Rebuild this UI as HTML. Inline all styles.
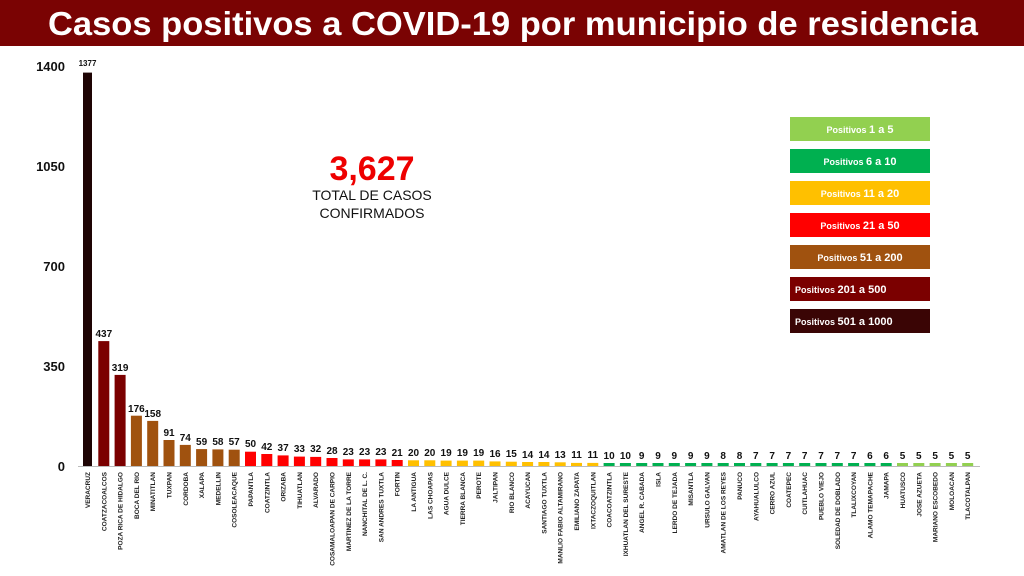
<!DOCTYPE html>
<html><head><meta charset="utf-8"><style>
body{margin:0;background:#fff;}
svg{display:block;font-family:"Liberation Sans",Arial,sans-serif;}
.v{font-size:10px;font-weight:bold;text-anchor:middle;fill:#111}
.l{font-size:6.5px;font-weight:bold;text-anchor:end;fill:#222}
.y{font-size:13px;font-weight:bold;text-anchor:end;fill:#111}
.lg{font-size:9px;font-weight:bold;fill:#fff;text-anchor:middle}
.lg tspan{font-size:11px}
</style></head><body>
<svg width="1024" height="576" viewBox="0 0 1024 576">
<rect x="0" y="0" width="1024" height="46" fill="#7a0303"/>
<text x="48" y="35" textLength="930" lengthAdjust="spacingAndGlyphs" font-size="33" font-weight="bold" fill="#fff">Casos positivos a COVID-19  por municipio de residencia</text>
<text class="y" x="65" y="71">1400</text>
<text class="y" x="65" y="171">1050</text>
<text class="y" x="65" y="271">700</text>
<text class="y" x="65" y="371">350</text>
<text class="y" x="65" y="471">0</text>
<line x1="78" y1="466.5" x2="980" y2="466.5" stroke="#bbb" stroke-width="1"/>
<text x="372" y="180" text-anchor="middle" font-size="34" font-weight="bold" fill="#ee0000">3,627</text>
<text x="372" y="200" text-anchor="middle" font-size="14" fill="#111">TOTAL DE CASOS</text>
<text x="372" y="218" text-anchor="middle" font-size="14" fill="#111">CONFIRMADOS</text>
<rect x="790" y="117" width="140" height="24" fill="#92d050"/><text class="lg" x="860" y="133">Positivos <tspan>1 a 5</tspan></text>
<rect x="790" y="149" width="140" height="24" fill="#00b050"/><text class="lg" x="860" y="165">Positivos <tspan>6 a 10</tspan></text>
<rect x="790" y="181" width="140" height="24" fill="#ffc000"/><text class="lg" x="860" y="197">Positivos <tspan>11 a 20</tspan></text>
<rect x="790" y="213" width="140" height="24" fill="#ff0000"/><text class="lg" x="860" y="229">Positivos <tspan>21 a 50</tspan></text>
<rect x="790" y="245" width="140" height="24" fill="#a0520f"/><text class="lg" x="860" y="261">Positivos <tspan>51 a 200</tspan></text>
<rect x="790" y="277" width="140" height="24" fill="#7b0000"/><text class="lg" x="795" y="293" style="text-anchor:start">Positivos <tspan>201 a 500</tspan></text>
<rect x="790" y="309" width="140" height="24" fill="#3a0505"/><text class="lg" x="795" y="325" style="text-anchor:start">Positivos <tspan>501 a 1000</tspan></text>

<rect x="83" y="72.6" width="9" height="393.4" fill="#1e0404"/><text class="v" x="87.5" y="66" style="font-size:8px">1377</text><text class="l" transform="translate(90,472) rotate(-90)">VERACRUZ</text>
<rect x="98.3" y="341.1" width="11" height="124.9" fill="#7b0000"/><text class="v" x="103.8" y="337">437</text><text class="l" transform="translate(106.3,472) rotate(-90)">COATZACOALCOS</text>
<rect x="114.6" y="374.9" width="11" height="91.1" fill="#7b0000"/><text class="v" x="120.1" y="371">319</text><text class="l" transform="translate(122.6,472) rotate(-90)">POZA RICA DE HIDALGO</text>
<rect x="130.9" y="415.7" width="11" height="50.3" fill="#a0520f"/><text class="v" x="136.4" y="412">176</text><text class="l" transform="translate(138.9,472) rotate(-90)">BOCA DEL RIO</text>
<rect x="147.2" y="420.9" width="11" height="45.1" fill="#a0520f"/><text class="v" x="152.7" y="417">158</text><text class="l" transform="translate(155.2,472) rotate(-90)">MINATITLAN</text>
<rect x="163.5" y="440" width="11" height="26" fill="#a0520f"/><text class="v" x="169" y="436">91</text><text class="l" transform="translate(171.5,472) rotate(-90)">TUXPAN</text>
<rect x="179.8" y="444.9" width="11" height="21.1" fill="#a0520f"/><text class="v" x="185.3" y="441">74</text><text class="l" transform="translate(187.8,472) rotate(-90)">CORDOBA</text>
<rect x="196.1" y="449.1" width="11" height="16.9" fill="#a0520f"/><text class="v" x="201.6" y="445">59</text><text class="l" transform="translate(204.1,472) rotate(-90)">XALAPA</text>
<rect x="212.4" y="449.4" width="11" height="16.6" fill="#a0520f"/><text class="v" x="217.9" y="445">58</text><text class="l" transform="translate(220.4,472) rotate(-90)">MEDELLIN</text>
<rect x="228.7" y="449.7" width="11" height="16.3" fill="#a0520f"/><text class="v" x="234.2" y="445">57</text><text class="l" transform="translate(236.7,472) rotate(-90)">COSOLEACAQUE</text>
<rect x="245" y="451.7" width="11" height="14.3" fill="#ff0000"/><text class="v" x="250.5" y="447">50</text><text class="l" transform="translate(253,472) rotate(-90)">PAPANTLA</text>
<rect x="261.3" y="454" width="11" height="12" fill="#ff0000"/><text class="v" x="266.8" y="450">42</text><text class="l" transform="translate(269.3,472) rotate(-90)">COATZINTLA</text>
<rect x="277.6" y="455.4" width="11" height="10.6" fill="#ff0000"/><text class="v" x="283.1" y="451">37</text><text class="l" transform="translate(285.6,472) rotate(-90)">ORIZABA</text>
<rect x="293.9" y="456.6" width="11" height="9.4" fill="#ff0000"/><text class="v" x="299.4" y="452">33</text><text class="l" transform="translate(301.9,472) rotate(-90)">TIHUATLAN</text>
<rect x="310.2" y="456.9" width="11" height="9.1" fill="#ff0000"/><text class="v" x="315.7" y="452">32</text><text class="l" transform="translate(318.2,472) rotate(-90)">ALVARADO</text>
<rect x="326.5" y="458" width="11" height="8" fill="#ff0000"/><text class="v" x="332" y="454">28</text><text class="l" transform="translate(334.5,472) rotate(-90)">COSAMALOAPAN DE CARPIO</text>
<rect x="342.8" y="459.4" width="11" height="6.6" fill="#ff0000"/><text class="v" x="348.3" y="455">23</text><text class="l" transform="translate(350.8,472) rotate(-90)">MARTINEZ DE LA TORRE</text>
<rect x="359.1" y="459.4" width="11" height="6.6" fill="#ff0000"/><text class="v" x="364.6" y="455">23</text><text class="l" transform="translate(367.1,472) rotate(-90)">NANCHITAL DE L. C.</text>
<rect x="375.4" y="459.4" width="11" height="6.6" fill="#ff0000"/><text class="v" x="380.9" y="455">23</text><text class="l" transform="translate(383.4,472) rotate(-90)">SAN ANDRES TUXTLA</text>
<rect x="391.7" y="460" width="11" height="6" fill="#ff0000"/><text class="v" x="397.2" y="456">21</text><text class="l" transform="translate(399.7,472) rotate(-90)">FORTIN</text>
<rect x="408" y="460.3" width="11" height="5.7" fill="#ffc000"/><text class="v" x="413.5" y="456">20</text><text class="l" transform="translate(416,472) rotate(-90)">LA ANTIGUA</text>
<rect x="424.3" y="460.3" width="11" height="5.7" fill="#ffc000"/><text class="v" x="429.8" y="456">20</text><text class="l" transform="translate(432.3,472) rotate(-90)">LAS CHOAPAS</text>
<rect x="440.6" y="460.6" width="11" height="5.4" fill="#ffc000"/><text class="v" x="446.1" y="456">19</text><text class="l" transform="translate(448.6,472) rotate(-90)">AGUA DULCE</text>
<rect x="456.9" y="460.6" width="11" height="5.4" fill="#ffc000"/><text class="v" x="462.4" y="456">19</text><text class="l" transform="translate(464.9,472) rotate(-90)">TIERRA BLANCA</text>
<rect x="473.2" y="460.6" width="11" height="5.4" fill="#ffc000"/><text class="v" x="478.7" y="456">19</text><text class="l" transform="translate(481.2,472) rotate(-90)">PEROTE</text>
<rect x="489.5" y="461.4" width="11" height="4.6" fill="#ffc000"/><text class="v" x="495" y="457">16</text><text class="l" transform="translate(497.5,472) rotate(-90)">JALTIPAN</text>
<rect x="505.8" y="461.7" width="11" height="4.3" fill="#ffc000"/><text class="v" x="511.3" y="457">15</text><text class="l" transform="translate(513.8,472) rotate(-90)">RIO BLANCO</text>
<rect x="522.1" y="462" width="11" height="4" fill="#ffc000"/><text class="v" x="527.6" y="458">14</text><text class="l" transform="translate(530.1,472) rotate(-90)">ACAYUCAN</text>
<rect x="538.4" y="462" width="11" height="4" fill="#ffc000"/><text class="v" x="543.9" y="458">14</text><text class="l" transform="translate(546.4,472) rotate(-90)">SANTIAGO TUXTLA</text>
<rect x="554.7" y="462.3" width="11" height="3.7" fill="#ffc000"/><text class="v" x="560.2" y="458">13</text><text class="l" transform="translate(562.7,472) rotate(-90)">MANLIO FABIO ALTAMIRANO</text>
<rect x="571" y="462.9" width="11" height="3.1" fill="#ffc000"/><text class="v" x="576.5" y="458">11</text><text class="l" transform="translate(579,472) rotate(-90)">EMILIANO ZAPATA</text>
<rect x="587.3" y="462.9" width="11" height="3.1" fill="#ffc000"/><text class="v" x="592.8" y="458">11</text><text class="l" transform="translate(595.3,472) rotate(-90)">IXTACZOQUITLAN</text>
<rect x="603.6" y="463" width="11" height="3" fill="#00b050"/><text class="v" x="609.1" y="459">10</text><text class="l" transform="translate(611.6,472) rotate(-90)">COACOATZINTLA</text>
<rect x="619.9" y="463" width="11" height="3" fill="#00b050"/><text class="v" x="625.4" y="459">10</text><text class="l" transform="translate(627.9,472) rotate(-90)">IXHUATLAN DEL SURESTE</text>
<rect x="636.2" y="463" width="11" height="3" fill="#00b050"/><text class="v" x="641.7" y="459">9</text><text class="l" transform="translate(644.2,472) rotate(-90)">ANGEL R. CABADA</text>
<rect x="652.5" y="463" width="11" height="3" fill="#00b050"/><text class="v" x="658" y="459">9</text><text class="l" transform="translate(660.5,472) rotate(-90)">ISLA</text>
<rect x="668.8" y="463" width="11" height="3" fill="#00b050"/><text class="v" x="674.3" y="459">9</text><text class="l" transform="translate(676.8,472) rotate(-90)">LERDO DE TEJADA</text>
<rect x="685.1" y="463" width="11" height="3" fill="#00b050"/><text class="v" x="690.6" y="459">9</text><text class="l" transform="translate(693.1,472) rotate(-90)">MISANTLA</text>
<rect x="701.4" y="463" width="11" height="3" fill="#00b050"/><text class="v" x="706.9" y="459">9</text><text class="l" transform="translate(709.4,472) rotate(-90)">URSULO GALVAN</text>
<rect x="717.7" y="463" width="11" height="3" fill="#00b050"/><text class="v" x="723.2" y="459">8</text><text class="l" transform="translate(725.7,472) rotate(-90)">AMATLAN DE LOS REYES</text>
<rect x="734" y="463" width="11" height="3" fill="#00b050"/><text class="v" x="739.5" y="459">8</text><text class="l" transform="translate(742,472) rotate(-90)">PANUCO</text>
<rect x="750.3" y="463" width="11" height="3" fill="#00b050"/><text class="v" x="755.8" y="459">7</text><text class="l" transform="translate(758.3,472) rotate(-90)">AYAHUALULCO</text>
<rect x="766.6" y="463" width="11" height="3" fill="#00b050"/><text class="v" x="772.1" y="459">7</text><text class="l" transform="translate(774.6,472) rotate(-90)">CERRO AZUL</text>
<rect x="782.9" y="463" width="11" height="3" fill="#00b050"/><text class="v" x="788.4" y="459">7</text><text class="l" transform="translate(790.9,472) rotate(-90)">COATEPEC</text>
<rect x="799.2" y="463" width="11" height="3" fill="#00b050"/><text class="v" x="804.7" y="459">7</text><text class="l" transform="translate(807.2,472) rotate(-90)">CUITLAHUAC</text>
<rect x="815.5" y="463" width="11" height="3" fill="#00b050"/><text class="v" x="821" y="459">7</text><text class="l" transform="translate(823.5,472) rotate(-90)">PUEBLO VIEJO</text>
<rect x="831.8" y="463" width="11" height="3" fill="#00b050"/><text class="v" x="837.3" y="459">7</text><text class="l" transform="translate(839.8,472) rotate(-90)">SOLEDAD DE DOBLADO</text>
<rect x="848.1" y="463" width="11" height="3" fill="#00b050"/><text class="v" x="853.6" y="459">7</text><text class="l" transform="translate(856.1,472) rotate(-90)">TLALIXCOYAN</text>
<rect x="864.4" y="463" width="11" height="3" fill="#00b050"/><text class="v" x="869.9" y="459">6</text><text class="l" transform="translate(872.4,472) rotate(-90)">ALAMO TEMAPACHE</text>
<rect x="880.7" y="463" width="11" height="3" fill="#00b050"/><text class="v" x="886.2" y="459">6</text><text class="l" transform="translate(888.7,472) rotate(-90)">JAMAPA</text>
<rect x="897" y="463" width="11" height="3" fill="#92d050"/><text class="v" x="902.5" y="459">5</text><text class="l" transform="translate(905,472) rotate(-90)">HUATUSCO</text>
<rect x="913.3" y="463" width="11" height="3" fill="#92d050"/><text class="v" x="918.8" y="459">5</text><text class="l" transform="translate(921.3,472) rotate(-90)">JOSE AZUETA</text>
<rect x="929.6" y="463" width="11" height="3" fill="#92d050"/><text class="v" x="935.1" y="459">5</text><text class="l" transform="translate(937.6,472) rotate(-90)">MARIANO ESCOBEDO</text>
<rect x="945.9" y="463" width="11" height="3" fill="#92d050"/><text class="v" x="951.4" y="459">5</text><text class="l" transform="translate(953.9,472) rotate(-90)">MOLOACAN</text>
<rect x="962.2" y="463" width="11" height="3" fill="#92d050"/><text class="v" x="967.7" y="459">5</text><text class="l" transform="translate(970.2,472) rotate(-90)">TLACOTALPAN</text>
</svg>
</body></html>
